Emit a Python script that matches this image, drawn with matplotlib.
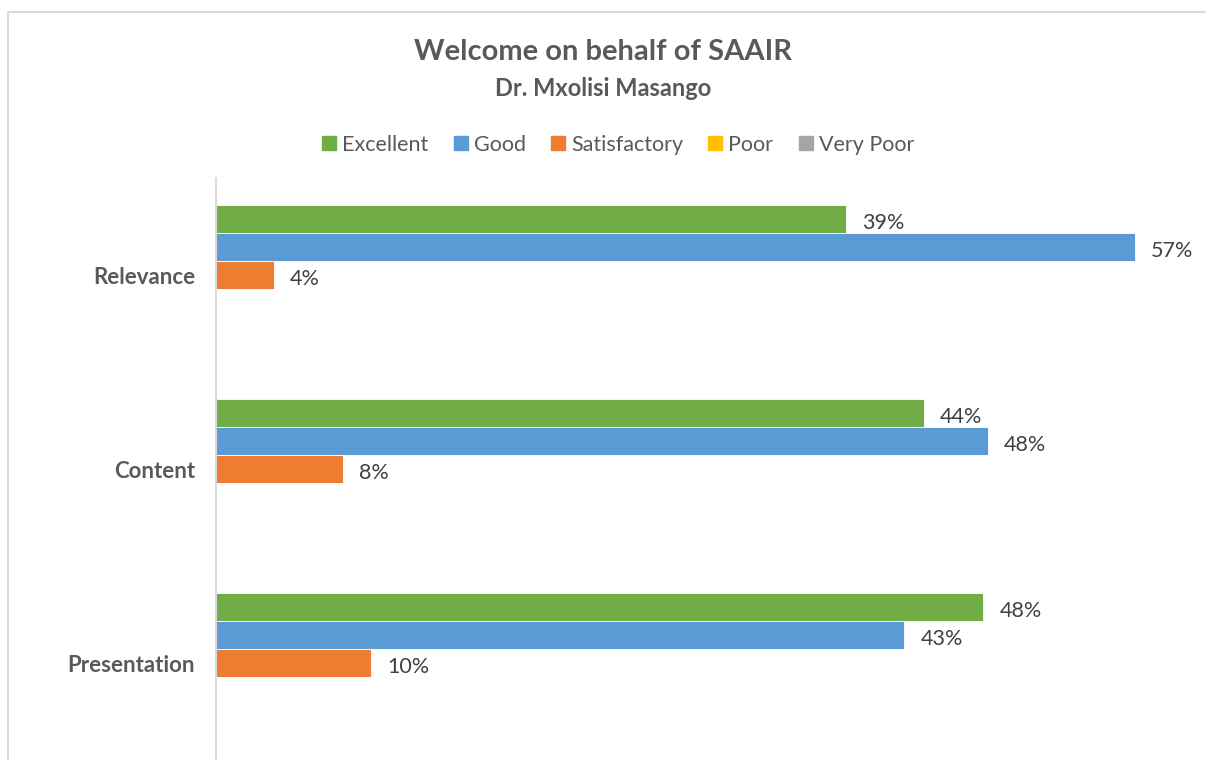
import matplotlib.pyplot as plt
import numpy as np
from matplotlib.patches import Rectangle
from matplotlib.lines import Line2D

plt.rcParams['font.family'] = ['Lato', 'DejaVu Sans']

categories = ["Relevance", "Content", "Presentation"]
series = ["Excellent", "Good", "Satisfactory", "Poor", "Very Poor"]
colors = ["#70AD47", "#5B9BD5", "#ED7D31", "#FFC000", "#A5A5A5"]
# shares in % (labels show them rounded)
excellent = [39.1, 43.9, 47.6]
good = [57.0, 47.9, 42.7]
satisfactory = [3.6, 7.9, 9.6]
poor = [0, 0, 0]
very_poor = [0, 0, 0]
values = [excellent, good, satisfactory, poor, very_poor]

TXT = "#595959"
fig = plt.figure(figsize=(12.06, 7.6), dpi=100)

# chart frame (cut off at bottom/right in the reference)
fig.patches.append(Rectangle((8 / 1206, -0.1), 1.2, (760 - 12) / 760 + 0.1,
                             transform=fig.transFigure, fill=False,
                             edgecolor="#D9D9D9", linewidth=1.5))

ax = fig.add_axes([216 / 1206, 0.0, (1183 - 216) / 1206, (760 - 178) / 760])

n = len(series)
group = 0.72
h = group / n
y = np.arange(len(categories))
for i, (name, vals, c) in enumerate(zip(series, values, colors)):
    pos = y - group / 2 + h * (i + 0.5)
    bars = ax.barh(pos, vals, height=h, color=c, edgecolor="white",
                   linewidth=0.6, label=name)
    for b, v in zip(bars, vals):
        if v > 0:
            ax.text(b.get_width() + 1.0, b.get_y() + b.get_height() / 2 + 0.02,
                    f"{v:.0f}%", va="center", ha="left", fontsize=15.5, color="#404040")

ax.set_xlim(0, 60)
ax.set_ylim(-0.5, 2.5)
ax.invert_yaxis()
ax.set_yticks(y)
ax.set_yticklabels(categories, fontsize=16, fontweight="bold", color=TXT)
ax.tick_params(axis="y", length=0, pad=15)
ax.set_xticks([])
for s in ["top", "right", "bottom"]:
    ax.spines[s].set_visible(False)
ax.spines["left"].set_color("#D9D9D9")
ax.spines["left"].set_linewidth(1.5)

fig.text(0.5, 1 - 52 / 760, "Welcome on behalf of SAAIR", ha="center", va="center",
         fontsize=21, fontweight="bold", color=TXT)
fig.text(0.5, 1 - 88 / 760, "Dr. Mxolisi Masango", ha="center", va="center",
         fontsize=17, fontweight="bold", color=TXT)

handles = [Line2D([], [], marker="s", linestyle="none", markersize=10,
                  markerfacecolor=c, markeredgecolor=c) for c in colors]
fig.legend(handles, series, loc="center", bbox_to_anchor=(0.511, 1 - 145 / 760),
           ncol=5, frameon=False, fontsize=15.5, labelcolor=TXT,
           handletextpad=0.1, columnspacing=1.0, handlelength=1.0)

fig.savefig("out.png", dpi=100)
